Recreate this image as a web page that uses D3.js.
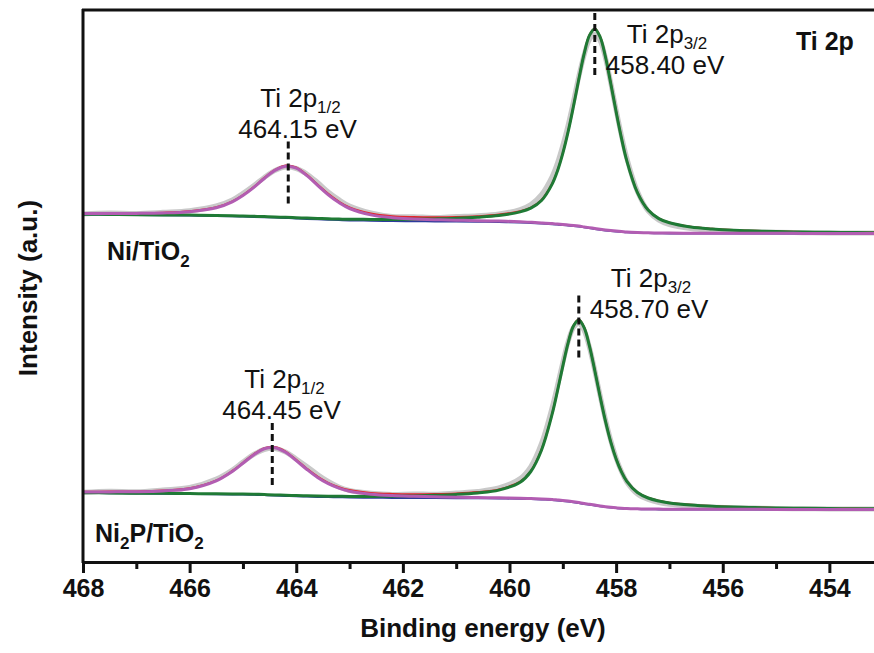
<!doctype html>
<html>
<head>
<meta charset="utf-8">
<style>
    body { margin: 0; background: #fff; }
    svg text { font-family: Arial, "Liberation Sans", sans-serif; fill: #111; }
    .tick-lbl { font-family: "Liberation Sans Narrow", "Arial Narrow", Arial, sans-serif; font-weight: bold; font-size: 25px; }
</style>
<script src="https://d3js.org/d3.v7.min.js"></script>
</head>
<body>
<script>

// binding energy grid (eV)
var energy = [468, 467.5, 467, 466.5, 466, 465.5, 465.2, 465, 464.8, 464.6,
    464.4, 464.2, 464, 463.8, 463.6, 463.4, 463.2, 463, 462.6, 462.2,
    461.8, 461.4, 461, 460.6, 460.2, 459.8, 459.6, 459.4, 459.2, 459.1,
    459, 458.9, 458.8, 458.7, 458.6, 458.5, 458.4, 458.3, 458.2, 458.1,
    458, 457.9, 457.8, 457.6, 457.4, 457.2, 457, 456.6, 456.2, 455.8,
    455.4, 455, 454.5, 454, 453.5, 453, 452.5];

// Ni/TiO2
var niRaw = [19.5, 20.5, 20.0, 21.2, 22.8, 27.5, 33.5, 40.2, 47.8, 56.0,
    63.0, 66.5, 65.0, 59.5, 51.0, 41.5, 33.8, 27.5, 20.5, 17.0,
    16.8, 16.0, 17.0, 17.8, 19.5, 24.0, 29.0, 39.0, 57.0, 70.5,
    88.0, 108.5, 132.0, 157.0, 178.5, 194.0, 199.5, 193.0, 175.5, 150.5,
    123.5, 98.0, 75.5, 42.0, 22.5, 13.5, 9.0, 5.0, 3.2, 2.0,
    1.5, 1.2, 0.8, 0.6, 0.5, 0.5, 0.4];
var niEnvelope = [20.1, 20.3, 20.4, 20.8, 22.2, 26.2, 32.2, 38.5, 46.5, 55.6,
    63.7, 68.0, 66.0, 58.6, 49.0, 39.6, 31.9, 26.1, 19.9, 17.3,
    16.5, 16.3, 16.5, 17.3, 18.9, 22.3, 25.9, 33.6, 50.0, 63.1,
    80.6, 102.3, 127.7, 154.7, 180.0, 198.5, 205.0, 196.9, 176.9, 150.2,
    122.1, 95.8, 73.1, 41.1, 23.7, 15.2, 11.0, 6.7, 4.7, 3.4,
    2.7, 2.1, 1.6, 1.3, 1.0, 0.9, 0.7];
var niP32 = [19.2, 19.1, 18.8, 18.5, 18.4, 18.0, 17.7, 17.5, 17.2, 16.9,
    16.5, 16.2, 15.8, 15.4, 15.0, 14.7, 14.4, 14.2, 14.1, 14.0,
    14.2, 14.6, 15.2, 16.3, 18.0, 21.6, 25.3, 33.0, 49.4, 62.6,
    80.1, 101.8, 127.2, 154.2, 179.6, 198.1, 204.6, 196.5, 176.5, 149.8,
    121.7, 95.4, 72.8, 40.8, 23.4, 14.9, 10.7, 6.5, 4.5, 3.2,
    2.5, 1.9, 1.5, 1.2, 0.9, 0.8, 0.6];
var niP12 = [19.9, 20.0, 20.1, 20.5, 21.8, 25.7, 31.7, 38.0, 45.9, 55.0,
    63.1, 67.3, 65.3, 57.8, 48.2, 38.7, 30.9, 25.0, 18.6, 15.8,
    14.6, 13.8, 13.3, 12.8, 12.4, 11.7, 11.2, 10.6, 9.9, 9.4,
    9.0, 8.5, 8.0, 7.4, 6.6, 5.8, 5.0, 4.2, 3.5, 2.9,
    2.4, 2.0, 1.5, 1.0, 0.7, 0.5, 0.4, 0.2, 0.2, 0.2,
    0.2, 0.2, 0.1, 0.1, 0.1, 0.1, 0.1];
var niBackground = [19, 18.8, 18.5, 18.2, 18, 17.5, 17.2, 17, 16.6, 16.3,
    15.9, 15.5, 15.1, 14.6, 14.2, 13.8, 13.4, 13.1, 12.8, 12.5,
    12.3, 12.1, 12, 11.8, 11.5, 11, 10.6, 10, 9.3, 8.9,
    8.5, 8, 7.5, 6.9, 6.2, 5.4, 4.6, 3.8, 3.1, 2.5,
    2, 1.6, 1.2, 0.7, 0.4, 0.2, 0.1, 0, 0, 0,
    0, 0, 0, 0, 0, 0, 0];

// Ni2P/TiO2
var ni2pRaw = [17.2, 18.3, 17.8, 19.6, 22.0, 30.5, 39.5, 47.5, 55.0, 60.0,
    61.0, 57.5, 50.5, 43.0, 35.0, 28.0, 22.5, 19.0, 16.2, 15.0,
    15.6, 15.2, 16.5, 18.0, 21.5, 31.0, 43.0, 66.0, 102.0, 124.0,
    147.0, 168.0, 182.0, 186.0, 179.0, 162.0, 139.0, 114.0, 90.0, 69.0,
    51.5, 38.0, 27.5, 15.5, 10.0, 7.0, 5.2, 3.5, 2.4, 1.8,
    1.4, 1.0, 0.8, 0.6, 0.5, 0.4, 0.4];
var ni2pEnvelope = [17.8, 17.9, 18.1, 19.0, 21.2, 29.1, 38.6, 46.8, 55.2, 61.3,
    62.4, 57.9, 49.6, 40.8, 32.9, 26.7, 22.3, 19.4, 16.6, 15.6,
    15.3, 15.5, 16.1, 17.4, 20.1, 27.9, 38.5, 59.8, 95.8, 119.0,
    143.8, 167.0, 184.0, 189.9, 182.3, 163.8, 139.2, 113.0, 88.6, 67.7,
    50.9, 38.0, 28.5, 17.3, 11.8, 8.8, 6.8, 4.7, 3.4, 2.6,
    2.1, 1.6, 1.3, 1.0, 0.9, 0.7, 0.6];
var ni2pP32 = [16.8, 16.6, 16.3, 16.2, 15.9, 15.7, 15.6, 15.5, 15.3, 15.0,
    14.6, 14.3, 13.9, 13.7, 13.5, 13.3, 13.2, 13.1, 13.1, 13.3,
    13.6, 14.2, 15.1, 16.6, 19.4, 27.3, 38.0, 59.3, 95.3, 118.6,
    143.4, 166.6, 183.6, 189.5, 181.9, 163.4, 138.8, 112.7, 88.3, 67.4,
    50.6, 37.7, 28.2, 17.0, 11.5, 8.5, 6.6, 4.5, 3.2, 2.4,
    1.9, 1.5, 1.2, 0.9, 0.8, 0.6, 0.5];
var ni2pP12 = [17.5, 17.6, 17.8, 18.6, 20.8, 28.7, 38.1, 46.3, 54.6, 60.7,
    61.8, 57.2, 48.9, 40.0, 32.0, 25.8, 21.3, 18.3, 15.3, 13.9,
    13.2, 12.7, 12.3, 12.0, 11.7, 11.3, 11.0, 10.6, 10.0, 9.5,
    9.0, 8.4, 7.7, 6.9, 6.0, 5.2, 4.4, 3.5, 2.8, 2.2,
    1.7, 1.3, 1.0, 0.7, 0.5, 0.4, 0.2, 0.2, 0.2, 0.2,
    0.2, 0.1, 0.1, 0.1, 0.1, 0.1, 0.1];
var ni2pBackground = [16.5, 16.3, 16.0, 15.8, 15.5, 15.3, 15.1, 15.0, 14.7, 14.4,
    14.0, 13.6, 13.2, 12.9, 12.6, 12.4, 12.2, 12.0, 11.8, 11.6,
    11.5, 11.4, 11.3, 11.2, 11.0, 10.7, 10.5, 10.1, 9.5, 9.1,
    8.6, 8.0, 7.3, 6.5, 5.6, 4.8, 4.0, 3.2, 2.5, 1.9,
    1.4, 1.0, 0.7, 0.4, 0.2, 0.1, 0, 0, 0, 0,
    0, 0, 0, 0, 0, 0, 0];

// vertical stacking offsets of the two spectra (a.u.)
var sampleOffsets = [328.5, 52.5];

// fitted peak positions: [2p1/2, 2p3/2]
var niPeaks = [464.15, 458.40];
var ni2pPeaks = [464.45, 458.70];
var peakLabels = ["464.15 eV", "458.40 eV", "464.45 eV", "458.70 eV"];

var majorTicks = [468, 466, 464, 462, 460, 458, 456, 454];
var minorTicks = [467, 465, 463, 461, 459, 457, 455, 453];
var tickLabels = ["468", "466", "464", "462", "460", "458", "456", "454"];

var width = 874, height = 653;
var svg = d3.select("body").append("svg")
    .attr("width", width)
    .attr("height", height);

var x = d3.scaleLinear().domain([468, 452]).range([83, 936]);
var y = d3.scaleLinear().domain([0, 552]).range([562, 10]);

var samples = [
    { offset: sampleOffsets[0], raw: niRaw, env: niEnvelope, p32: niP32, p12: niP12, bg: niBackground, peaks: niPeaks, labels: peakLabels.slice(0, 2) },
    { offset: sampleOffsets[1], raw: ni2pRaw, env: ni2pEnvelope, p32: ni2pP32, p12: ni2pP12, bg: ni2pBackground, peaks: ni2pPeaks, labels: peakLabels.slice(2, 4) }
];

var layers = [
    { key: "raw", color: "#c9c9c9", w: 5 },
    { key: "env", color: "#e3262b", w: 2 },
    { key: "bg", color: "#2c3b9c", w: 2 },
    { key: "p32", color: "#1f7a35", w: 3 },
    { key: "p12", color: "#b25db2", w: 3 }
];

var plot = svg.append("g");

samples.forEach(function (s) {
    var line = d3.line()
        .x(function (d, i) { return x(energy[i]); })
        .y(function (d) { return y(d + s.offset); })
        .curve(d3.curveCatmullRom.alpha(0.5));

    layers.forEach(function (l) {
        plot.append("path")
            .datum(s[l.key])
            .attr("d", line)
            .attr("fill", "none")
            .attr("stroke", l.color)
            .attr("stroke-width", l.w)
            .attr("stroke-linejoin", "round");
    });

    // dashed markers + labels at peak tops
    s.peaks.forEach(function (e, k) {
        var near = d3.minIndex(energy, function (v) { return Math.abs(v - e); });
        var top = d3.max([s.env[near], s.env[near - 1], s.env[near + 1]]);
        var px = x(e);
        var yTop = Math.max(y(top + s.offset) - 24, 13);
        plot.append("line")
            .attr("x1", px).attr("x2", px)
            .attr("y1", yTop).attr("y2", yTop + 62)
            .attr("stroke", "#111")
            .attr("stroke-width", 3)
            .attr("stroke-dasharray", "7,4");

        var sub = k === 0 ? "1/2" : "3/2";
        var y1, dx1, dx2;
        if (k === 0) {
            y1 = yTop - 35; dx1 = -28; dx2 = -50;
        } else {
            y1 = Math.max(yTop - 9, 43); dx1 = 32; dx2 = 11;
        }
        var t = plot.append("text")
            .attr("x", px + dx1).attr("y", y1)
            .style("font-size", "26px");
        t.append("tspan").text("Ti 2p");
        t.append("tspan").attr("dy", 6).style("font-size", "17px").text(sub);
        plot.append("text")
            .attr("x", px + dx2).attr("y", y1 + 31)
            .style("font-size", "26px")
            .text(s.labels[k]);
    });
});

// sample names
var n1 = svg.append("text").attr("x", 107).attr("y", 260)
    .style("font-size", "25px").style("font-weight", "bold");
n1.append("tspan").text("Ni/TiO");
n1.append("tspan").attr("dy", 7).style("font-size", "17px").text("2");

var n2 = svg.append("text").attr("x", 95).attr("y", 542)
    .style("font-size", "25px").style("font-weight", "bold");
n2.append("tspan").text("Ni");
n2.append("tspan").attr("dy", 7).style("font-size", "17px").text("2");
n2.append("tspan").attr("dy", -7).text("P/TiO");
n2.append("tspan").attr("dy", 7).style("font-size", "17px").text("2");

svg.append("text").attr("x", 796).attr("y", 50)
    .style("font-size", "25px").style("font-weight", "bold")
    .text("Ti 2p");

// frame: top border and left axis
svg.append("line").attr("x1", 82).attr("x2", 936).attr("y1", 10).attr("y2", 10)
    .attr("stroke", "#111").attr("stroke-width", 3);
svg.append("line").attr("x1", 83).attr("x2", 83).attr("y1", 9).attr("y2", 563)
    .attr("stroke", "#111").attr("stroke-width", 3);

// bottom axis
var majorAxis = d3.axisBottom(x).tickValues(majorTicks).tickSize(11)
    .tickFormat(function (d, i) { return tickLabels[i]; });
var minorAxis = d3.axisBottom(x).tickValues(minorTicks).tickSize(7).tickFormat("");

var gMinor = svg.append("g").attr("transform", "translate(0,562)").call(minorAxis);
var gMajor = svg.append("g").attr("transform", "translate(0,562)").call(majorAxis);
[gMinor, gMajor].forEach(function (g) {
    g.select(".domain").attr("stroke", "#111").attr("stroke-width", 3);
    g.selectAll(".tick line").attr("stroke", "#111").attr("stroke-width", 3);
});
gMajor.selectAll(".tick text")
    .attr("class", "tick-lbl")
    .attr("y", 35).attr("dy", 0)
    .attr("fill", "#111");

svg.append("text")
    .attr("x", 483).attr("y", 637)
    .attr("text-anchor", "middle")
    .style("font-size", "26px").style("font-weight", "bold")
    .text("Binding energy (eV)");

svg.append("text")
    .attr("transform", "translate(37,288) rotate(-90)")
    .attr("text-anchor", "middle")
    .style("font-size", "26px").style("font-weight", "bold")
    .text("Intensity (a.u.)");

</script>
</body>
</html>
